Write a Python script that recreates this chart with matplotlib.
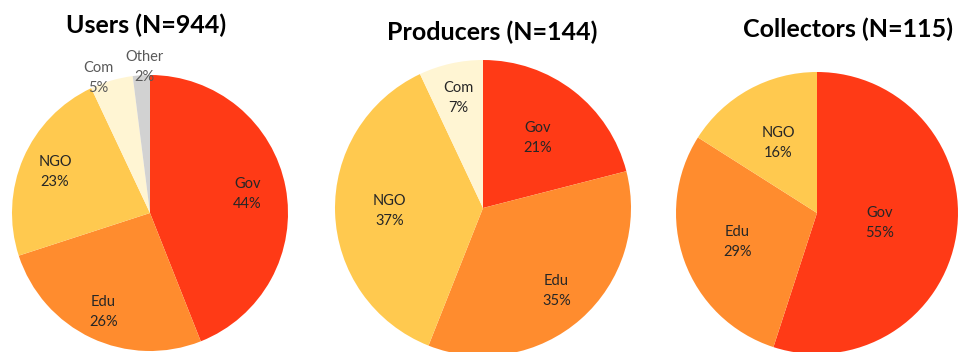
import numpy as np
import matplotlib
matplotlib.use('Agg')
import matplotlib.pyplot as plt

# Data
titles = ['Users (N=944)', 'Producers (N=144)', 'Collectors (N=115)']
user_labels = ['Gov', 'Edu', 'NGO', 'Com', 'Other']
user_values = [44, 26, 23, 5, 2]
producer_labels = ['Gov', 'Edu', 'NGO', 'Com']
producer_values = [21, 35, 37, 7]
collector_labels = ['Gov', 'Edu', 'NGO']
collector_values = [55, 29, 16]

colors = {'Gov': '#ff3a16', 'Edu': '#ff8c2e', 'NGO': '#ffc94f',
          'Com': '#fff5d3', 'Other': '#d2d2d2'}

W, H = 961, 352
fig = plt.figure(figsize=(W / 100, H / 100), dpi=100)
fig.patch.set_facecolor('white')

# pie layout in pixels: centre x, centre y, radius
layout = [(150, 213, 138), (483, 208, 148), (817, 213, 141)]
# radial position of each label (fraction of radius)
label_r = [[0.72, 0.79, 0.75, 1.02, 1.06],
           [0.60, 0.75, 0.63, 0.76],
           [0.45, 0.60, 0.57]]
# extra horizontal nudge for the small outside labels (pixels)
nudge = [[0, 0, 0, -12, 4], [0, 0, 0, 0], [0, 0, 0]]
title_pos = [(146, 25), (492, 32), (848, 29)]

pies = [(user_labels, user_values), (producer_labels, producer_values),
        (collector_labels, collector_values)]

for i, (labels, values) in enumerate(pies):
    cx, cy, r = layout[i]
    ax = fig.add_axes([(cx - r) / W, (H - cy - r) / H, 2 * r / W, 2 * r / H])
    wedges, _ = ax.pie(values, colors=[colors[l] for l in labels],
                       startangle=90, counterclock=False,
                       wedgeprops=dict(linewidth=0))
    ax.set_xlim(-1, 1)
    ax.set_ylim(-1, 1)
    ax.set_aspect('auto')
    ax.axis('off')
    for j, (w, lab) in enumerate(zip(wedges, labels)):
        ang = np.deg2rad((w.theta1 + w.theta2) / 2)
        d = label_r[i][j]
        tc = '#595959' if d > 1 else '#262626'
        x = d * np.cos(ang) + nudge[i][j] / r
        ax.text(x, d * np.sin(ang), f'{lab}\n{values[j]}%',
                ha='center', va='center', fontsize=10.5, color=tc,
                family='Lato', linespacing=1.55, clip_on=False)
    tx, ty = title_pos[i]
    fig.text(tx / W, 1 - ty / H, titles[i], ha='center', va='center',
             fontsize=18, fontweight='bold', family='Lato', color='black')

fig.savefig('out.png', dpi=100)
